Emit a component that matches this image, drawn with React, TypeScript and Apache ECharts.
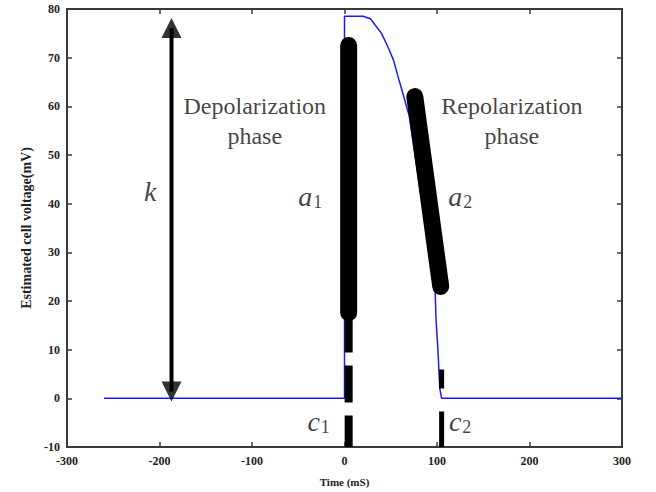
import React, { useEffect, useRef } from "react";
import * as echarts from "echarts";

// Estimated action-potential curve (time in mS, voltage in mV)
const curveX = [-260, 0, 0, 20, 28, 40, 47, 53, 58, 62, 66, 70, 98, 99, 101, 103, 105, 300];
const curveY = [0, 0, 78.5, 78.5, 78, 75, 72.2, 69.5, 66, 63.4, 60.7, 58, 22, 16, 10, 2, 0, 0];

// Fitted segments drawn over the curve
const a1X = [4.5, 4.5];
const a1Y = [72.5, 17.6];
const a2X = [76, 104];
const a2Y = [62, 23];
const c1X = [4.5, 4.5];
const c1Y = [17, -10];
const c2X = [105, 105];
const c2Y = [5.9, -10];
const c2HookX = [105, 103];
const c2HookY = [-8.8, -10];

// Amplitude arrow k
const kX = [-187, -187];
const kY = [76.1, 1.4];

// Annotation texts and their anchor in data units
const noteText = ["k", "a1", "a2", "c1", "c2", "Depolarization\nphase", "Repolarization\nphase"];
const noteX = [-210, -37, 125, -28, 125, -97, 181];
const noteY = [42.5, 41.5, 41.5, -4.7, -4.7, 56.9, 56.9];

// Axis ranges
const xMin = -300, xMax = 300, xStep = 100;
const yMin = -10, yMax = 80, yStep = 10;

const zip = (xs: number[], ys: number[]) => xs.map((x, i) => [x, ys[i]]);

const AXIS_COLOR = "#3a3a3a";
const SERIF = "'Liberation Serif', 'Times New Roman', serif";

export default function App() {
  const ref = useRef<HTMLDivElement>(null);
  useEffect(() => {
    if (!ref.current) return;
    const chart = echarts.init(ref.current, undefined, { renderer: "svg" });
    const axisCommon = {
      type: "value" as const,
      axisLine: { show: true, onZero: false, lineStyle: { color: AXIS_COLOR, width: 2 } },
      axisTick: { show: true, inside: true, length: 5, lineStyle: { color: AXIS_COLOR, width: 1.5 } },
      splitLine: { show: false },
    };
    const labelStyle = {
      fontFamily: SERIF,
      fontWeight: "bold" as const,
      fontSize: 12,
      color: "#222",
    };
    const richNote = {
      it: { fontFamily: SERIF, fontStyle: "italic" as const, fontSize: 28, color: "#111" },
      sub: { fontFamily: SERIF, fontSize: 18, color: "#111", verticalAlign: "bottom" as const, padding: [12, 0, 0, 1] },
    };
    const formatNote = (t: string) => {
      if (t.includes("\n")) return t;
      if (t.length === 2) return `{it|${t[0]}}{sub|${t[1]}}`;
      return `{it|${t}}`;
    };
    chart.setOption({
      animation: false,
      backgroundColor: "#fff",
      grid: { left: 67, right: 34, top: 9, bottom: 43, containLabel: false },
      xAxis: [
        {
          ...axisCommon,
          min: xMin,
          max: xMax,
          interval: xStep,
          position: "bottom",
          axisLabel: { ...labelStyle, margin: 8 },
          name: "Time (mS)",
          nameLocation: "middle",
          nameGap: 29,
          nameTextStyle: { ...labelStyle, fontSize: 11 },
        },
        {
          ...axisCommon,
          min: xMin,
          max: xMax,
          interval: xStep,
          position: "top",
          axisLabel: { show: false },
        },
      ],
      yAxis: [
        {
          ...axisCommon,
          min: yMin,
          max: yMax,
          interval: yStep,
          position: "left",
          axisLabel: { ...labelStyle, margin: 7 },
          name: "Estimated cell voltage(mV)",
          nameLocation: "middle",
          nameGap: 34,
          nameTextStyle: { ...labelStyle, fontSize: 14 },
        },
        {
          ...axisCommon,
          min: yMin,
          max: yMax,
          interval: yStep,
          position: "right",
          axisLabel: { show: false },
        },
      ],
      series: [
        {
          type: "line",
          data: zip(curveX, curveY),
          showSymbol: false,
          symbol: "none",
          lineStyle: { color: "#1a1aff", width: 1.5 },
          z: 2,
        },
        {
          type: "line",
          data: zip(a1X, a1Y),
          symbol: "none",
          lineStyle: { color: "#000", width: 17, cap: "round" },
          z: 3,
        },
        {
          type: "line",
          data: zip(a2X, a2Y),
          symbol: "none",
          lineStyle: { color: "#000", width: 17, cap: "round" },
          z: 3,
        },
        {
          type: "line",
          data: zip(c1X, c1Y),
          symbol: "none",
          lineStyle: { color: "#000", width: 8, type: [37, 13], cap: "butt" },
          z: 3,
        },
        {
          type: "line",
          data: zip(c2X, c2Y),
          symbol: "none",
          lineStyle: { color: "#000", width: 5, type: [19, 23, 60, 0], cap: "butt" },
          z: 3,
        },
        {
          type: "line",
          data: zip(c2HookX, c2HookY),
          symbol: "none",
          lineStyle: { color: "#000", width: 2 },
          z: 3,
        },
        {
          type: "line",
          data: zip(kX, kY),
          symbol: "none",
          lineStyle: { color: "#000", width: 4 },
          z: 3,
        },
        {
          type: "scatter",
          data: kX.map((x, i) => ({ value: [x, kY[i]], symbolRotate: i === 0 ? 0 : 180 })),
          symbol: "triangle",
          symbolSize: [20, 20],
          itemStyle: { color: "#000" },
          z: 4,
        },
        {
          type: "scatter",
          data: noteText.map((t, i) => ({ value: [noteX[i], noteY[i]], name: t })),
          symbolSize: 0,
          itemStyle: { color: "transparent" },
          label: {
            show: true,
            position: "inside",
            align: "center",
            verticalAlign: "middle",
            formatter: (p: any) => formatNote(p.name),
            fontFamily: SERIF,
            fontSize: 24,
            lineHeight: 30,
            color: "#111",
            rich: richNote,
          },
          z: 5,
        },
      ],
    });
    return () => chart.dispose();
  }, []);
  return <div ref={ref} style={{ width: 656, height: 492, position: "absolute", left: 0, top: 0 }} />;
}
